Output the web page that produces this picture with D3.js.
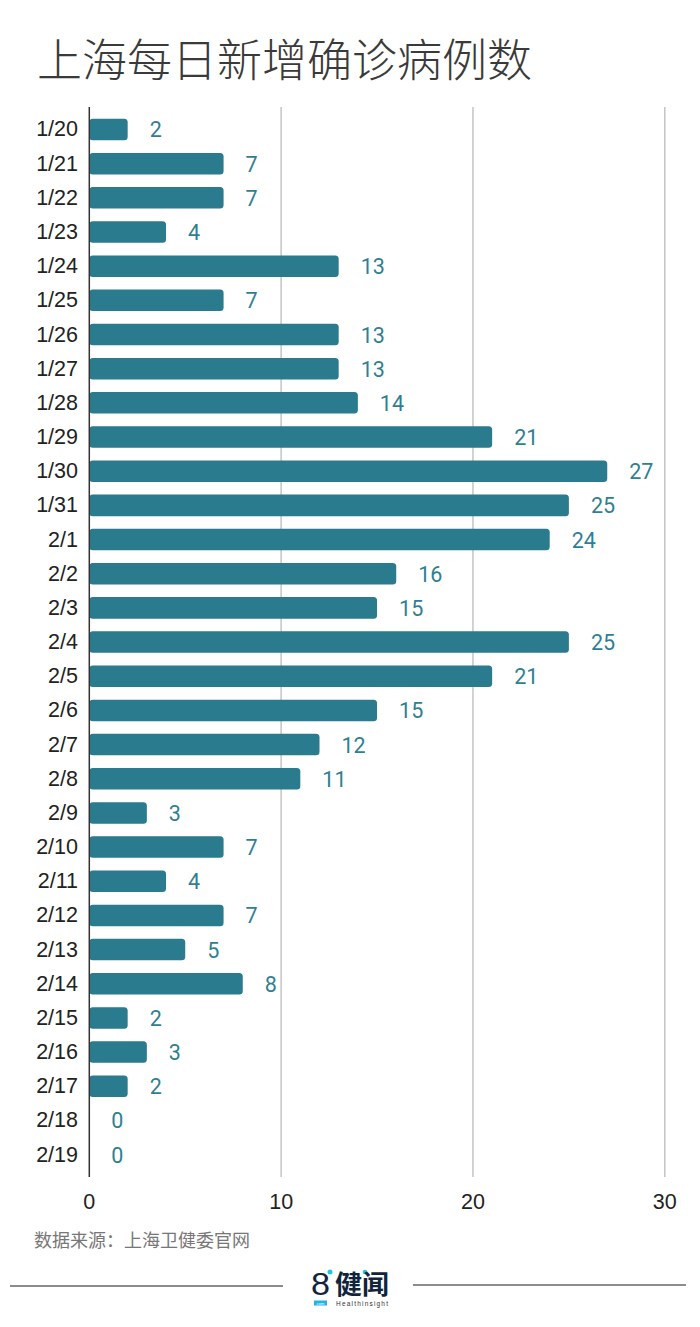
<!DOCTYPE html>
<html><head><meta charset="utf-8">
<script src="https://cdn.jsdelivr.net/npm/d3@7/dist/d3.min.js"></script>
<style>html,body{margin:0;padding:0;background:#fff}svg{display:block}</style>
</head><body><svg id="c" width="700" height="1327"></svg>
<script>
const titleText = "上海每日新增确诊病例数";
const sourceText = "数据来源\uFF1A上海卫健委官网";
const dates = ["1/20","1/21","1/22","1/23","1/24","1/25","1/26","1/27","1/28","1/29","1/30","1/31","2/1","2/2","2/3","2/4","2/5","2/6","2/7","2/8","2/9","2/10","2/11","2/12","2/13","2/14","2/15","2/16","2/17","2/18","2/19"];
const cases = [2,7,7,4,13,7,13,13,14,21,27,25,24,16,15,25,21,15,12,11,3,7,4,7,5,8,2,3,2,0,0];
const xTicks = [0,10,20,30];

const svg = d3.select("#c");
const cjk = "'Noto Sans CJK SC','Noto Sans',sans-serif";
const latin = "'Liberation Sans',Arial,sans-serif";
const x = d3.scaleLinear().domain([0,30]).range([89.3,664.8]);
const y = d3.scaleBand().domain(dates).range([112.4,1171.7]).paddingInner(0.37).paddingOuter(0.185);

svg.append("text").attr("x",37).attr("y",77).attr("font-family",cjk).attr("font-size",45).attr("font-weight",300)
  .attr("fill","#3a3a3a").text(titleText);

svg.append("g").selectAll("line").data(xTicks.slice(1)).join("line")
  .attr("x1",d=>x(d)).attr("x2",d=>x(d)).attr("y1",107).attr("y2",1177)
  .attr("stroke","#c4c4c4").attr("stroke-width",1.5);

svg.append("g").selectAll("rect").data(cases).join("rect")
  .attr("x",x(0)).attr("y",(d,i)=>y(dates[i])).attr("width",d=>x(d)-x(0)).attr("height",y.bandwidth())
  .attr("rx",d=>d>0?3.5:0).attr("fill","#2a7b8d");

svg.append("line").attr("x1",x(0)).attr("x2",x(0)).attr("y1",107).attr("y2",1177)
  .attr("stroke","#333").attr("stroke-width",1.5);

svg.append("g").selectAll("text").data(cases).join("text")
  .attr("x",d=>x(d)+22).attr("y",(d,i)=>y(dates[i])+y.bandwidth()/2+8)
  .attr("font-family","Roboto,sans-serif").attr("font-size",21.5).attr("fill","#2f7f92")
  .text(d=>d);

svg.append("g").selectAll("text").data(dates).join("text")
  .attr("x",78).attr("y",d=>y(d)+y.bandwidth()/2+7)
  .attr("text-anchor","end").attr("font-family",latin).attr("font-size",21.5).attr("fill","#222").text(d=>d);

svg.append("g").selectAll("text").data(xTicks).join("text")
  .attr("x",d=>x(d)).attr("y",1209).attr("text-anchor","middle")
  .attr("font-family",latin).attr("font-size",21.5).attr("fill","#222").text(d=>d);

svg.append("text").attr("x",34).attr("y",1247).attr("font-family",cjk).attr("font-size",18)
  .attr("fill","#777").text(sourceText);

svg.append("line").attr("x1",10).attr("x2",283).attr("y1",1286).attr("y2",1286).attr("stroke","#666").attr("stroke-width",1.3);
svg.append("line").attr("x1",413).attr("x2",686).attr("y1",1285).attr("y2",1285).attr("stroke","#666").attr("stroke-width",1.3);

const logoCjk = "'Liberation Sans','Noto Sans CJK SC',sans-serif";
const logo = svg.append("g");
logo.append("text").attr("x",311).attr("y",1294.5).attr("font-family",latin).attr("font-size",32).attr("fill","#10243e")
  .attr("textLength",19).attr("lengthAdjust","spacingAndGlyphs").text("8");
logo.append("circle").attr("cx",330).attr("cy",1272).attr("r",2.5).attr("fill","#22c6d8");
logo.append("circle").attr("cx",365).attr("cy",1272).attr("r",2.3).attr("fill","#22c6d8");
logo.append("text").attr("x",335).attr("y",1294).attr("font-family",logoCjk).attr("font-weight",700).attr("font-size",26).attr("fill","#10243e")
  .attr("textLength",54).attr("lengthAdjust","spacingAndGlyphs").text("健闻");
logo.append("rect").attr("x",314).attr("y",1300.5).attr("width",13).attr("height",5).attr("fill","#22b4e8");
logo.append("text").attr("x",320.5).attr("y",1305).attr("text-anchor","middle").attr("font-family",latin).attr("font-size",4).attr("fill","#fff").text("com");
logo.append("text").attr("x",336).attr("y",1305.5).attr("font-family",latin).attr("font-size",6.5).attr("fill","#333")
  .attr("textLength",52).text("Healthinsight");
</script></body></html>
